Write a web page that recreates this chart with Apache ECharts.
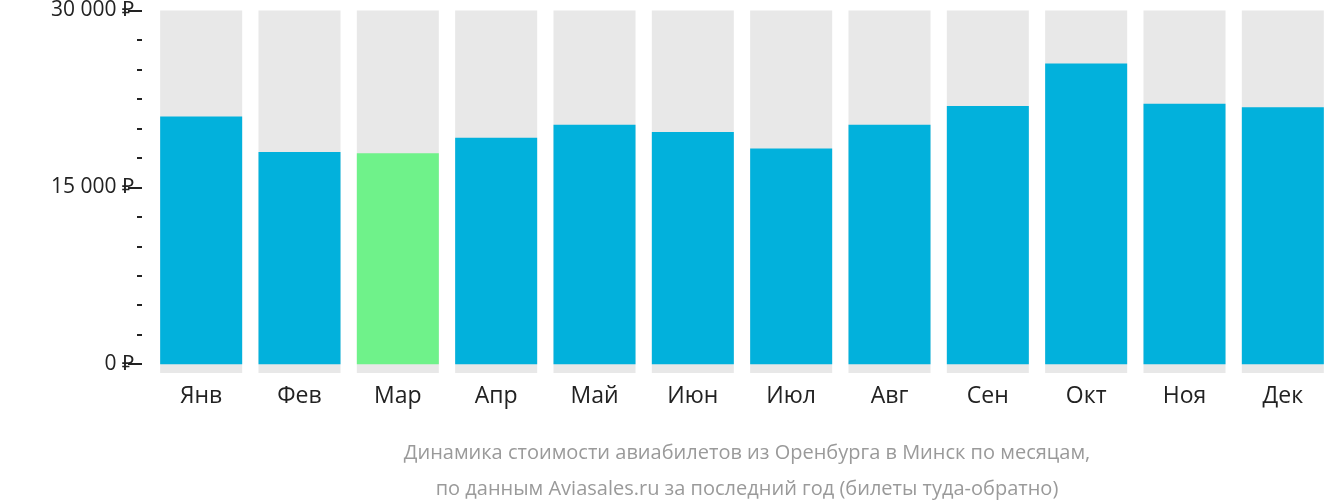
<!DOCTYPE html><html><head><meta charset="utf-8"><script src="https://cdn.jsdelivr.net/npm/echarts@6/dist/echarts.min.js"></script>
<style>body{margin:0}#c{width:1332px;height:502px}</style></head><body><div id="c"></div><script>
const categories=['Янв','Фев','Мар','Апр','Май','Июн','Июл','Авг','Сен','Окт','Ноя','Дек'];
const values=[21000,18000,17900,19200,20300,19700,18300,20300,21900,25500,22100,21800];
const highlight=2;
const majorTicks=[0,15000,30000];
const minorTicks=[2500,5000,7500,10000,12500,17500,20000,22500,25000,27500];
const c=echarts.init(document.getElementById('c'));
const yBase={type:'value',min:-750,max:30000,splitLine:{show:false},axisLine:{show:false},offset:10};
c.setOption({
 animation:false,
 grid:{left:152,right:0,top:7,bottom:129},
 title:{text:'Динамика стоимости авиабилетов из Оренбурга в Минск по месяцам,\nпо данным Aviasales.ru за последний год (билеты туда-обратно)',left:742,top:430,textAlign:'center',textStyle:{color:'#9a9a9a',fontSize:20,fontWeight:'normal',lineHeight:36,fontFamily:'Open Sans'}},
 xAxis:{type:'category',data:categories,axisLine:{show:false},axisTick:{show:false},axisLabel:{fontSize:23,color:'#222',margin:12,fontFamily:'Open Sans'}},
 yAxis:[
  Object.assign({},yBase,{axisTick:{show:true,length:14,lineStyle:{color:'#222',width:2},customValues:majorTicks},axisLabel:{customValues:majorTicks,fontSize:21,color:'#222',margin:8,fontFamily:'Open Sans',formatter:v=>v.toString().replace(/\B(?=(\d{3})+(?!\d))/g,' ')+' ₽'}}),
  Object.assign({},yBase,{position:'left',axisTick:{show:true,length:5,lineStyle:{color:'#222',width:2},customValues:minorTicks},axisLabel:{show:false}})
 ],
 series:[{type:'bar',barWidth:82,showBackground:true,backgroundStyle:{color:'#e8e8e8'},
  data:values.map((v,i)=>({value:v,itemStyle:{color:i===highlight?'#6ff28a':'#02b1dc'}}))}]
});
</script></body></html>
